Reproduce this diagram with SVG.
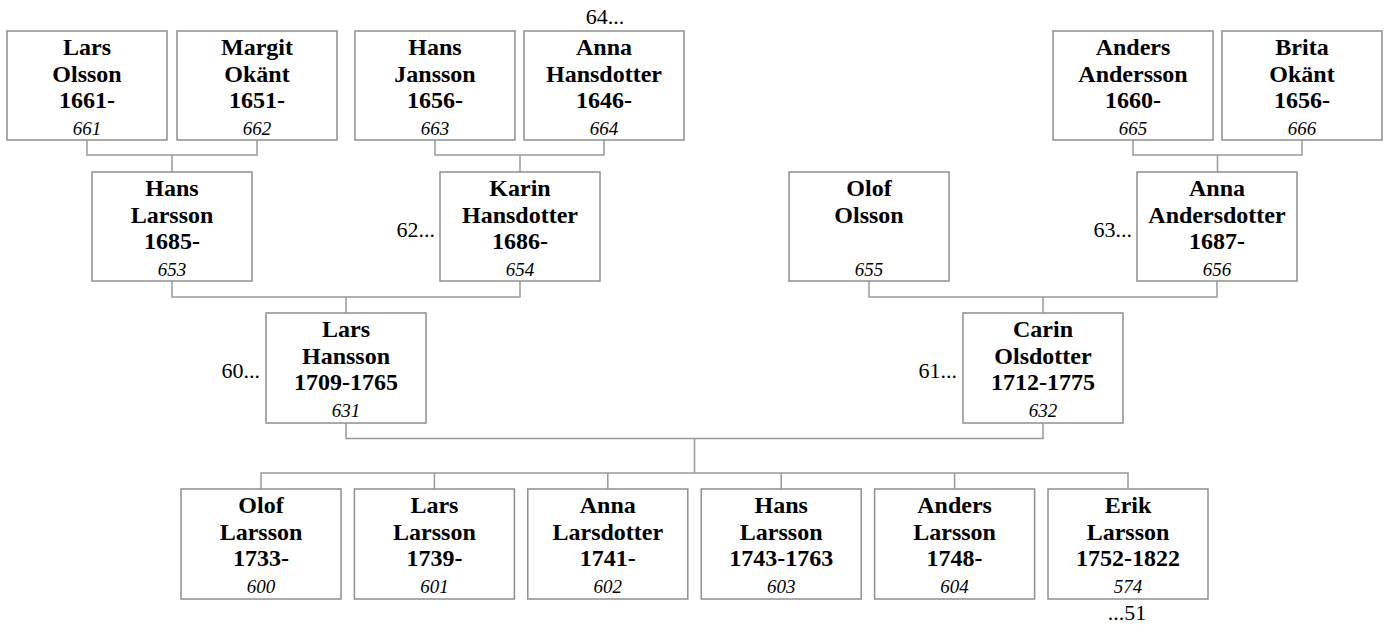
<svg xmlns="http://www.w3.org/2000/svg" width="1386" height="625" viewBox="0 0 1386 625">
<style>
.box{fill:#fff;stroke:#8f8f8f;stroke-width:1.5}
.n{font-family:"Liberation Serif","Times New Roman",serif;font-weight:bold;font-size:24px;fill:#000;text-anchor:middle}
.id{font-family:"Liberation Serif","Times New Roman",serif;font-style:italic;font-size:19px;fill:#000;text-anchor:middle}
.lbl{font-family:"Liberation Serif","Times New Roman",serif;font-size:22px;fill:#000}
.c{fill:none;stroke:#999;stroke-width:1.5}
</style>
<rect width="1386" height="625" fill="#fff"/>
<g id="connectors">
<path class="c" d="M87,140V155H257V140M172,155V172"/>
<path class="c" d="M435,140V155H604V140M520,155V172"/>
<path class="c" d="M1133,140V155H1302V140M1217.5,155V172"/>
<path class="c" d="M172,281V297H520V281M346,297V313"/>
<path class="c" d="M869,281V297H1217V281M1043,297V313"/>
<path class="c" d="M346,423V438.5H1043V423M694.5,438.5V473"/>
<path class="c" d="M261,489V473H1128V489M434.4,473V489M607.8,473V489M781.2,473V489M954.6,473V489"/>
</g>
<g id="p661"><rect class="box" x="7" y="31" width="160" height="109"/><text class="n" x="87" y="55">Lars</text><text class="n" x="87" y="82">Olsson</text><text class="n" x="87" y="108">1661-</text><text class="id" x="87" y="135">661</text></g>
<g id="p662"><rect class="box" x="177" y="31" width="160" height="109"/><text class="n" x="257" y="55">Margit</text><text class="n" x="257" y="82">Okänt</text><text class="n" x="257" y="108">1651-</text><text class="id" x="257" y="135">662</text></g>
<g id="p663"><rect class="box" x="355" y="31" width="160" height="109"/><text class="n" x="435" y="55">Hans</text><text class="n" x="435" y="82">Jansson</text><text class="n" x="435" y="108">1656-</text><text class="id" x="435" y="135">663</text></g>
<g id="p664"><rect class="box" x="524" y="31" width="160" height="109"/><text class="n" x="604" y="55">Anna</text><text class="n" x="604" y="82">Hansdotter</text><text class="n" x="604" y="108">1646-</text><text class="id" x="604" y="135">664</text><text class="lbl" x="605" y="24" text-anchor="middle">64...</text></g>
<g id="p665"><rect class="box" x="1053" y="31" width="160" height="109"/><text class="n" x="1133" y="55">Anders</text><text class="n" x="1133" y="82">Andersson</text><text class="n" x="1133" y="108">1660-</text><text class="id" x="1133" y="135">665</text></g>
<g id="p666"><rect class="box" x="1222" y="31" width="160" height="109"/><text class="n" x="1302" y="55">Brita</text><text class="n" x="1302" y="82">Okänt</text><text class="n" x="1302" y="108">1656-</text><text class="id" x="1302" y="135">666</text></g>
<g id="p653"><rect class="box" x="92" y="172" width="160" height="109"/><text class="n" x="172" y="196">Hans</text><text class="n" x="172" y="223">Larsson</text><text class="n" x="172" y="249">1685-</text><text class="id" x="172" y="276">653</text></g>
<g id="p654"><rect class="box" x="440" y="172" width="160" height="109"/><text class="n" x="520" y="196">Karin</text><text class="n" x="520" y="223">Hansdotter</text><text class="n" x="520" y="249">1686-</text><text class="id" x="520" y="276">654</text><text class="lbl" x="435" y="237" text-anchor="end">62...</text></g>
<g id="p655"><rect class="box" x="789" y="172" width="160" height="109"/><text class="n" x="869" y="196">Olof</text><text class="n" x="869" y="223">Olsson</text><text class="id" x="869" y="276">655</text></g>
<g id="p656"><rect class="box" x="1137" y="172" width="160" height="109"/><text class="n" x="1217" y="196">Anna</text><text class="n" x="1217" y="223">Andersdotter</text><text class="n" x="1217" y="249">1687-</text><text class="id" x="1217" y="276">656</text><text class="lbl" x="1132" y="237" text-anchor="end">63...</text></g>
<g id="p631"><rect class="box" x="266" y="313" width="160" height="110"/><text class="n" x="346" y="337">Lars</text><text class="n" x="346" y="364">Hansson</text><text class="n" x="346" y="390">1709-1765</text><text class="id" x="346" y="417">631</text><text class="lbl" x="260" y="378" text-anchor="end">60...</text></g>
<g id="p632"><rect class="box" x="963" y="313" width="160" height="110"/><text class="n" x="1043" y="337">Carin</text><text class="n" x="1043" y="364">Olsdotter</text><text class="n" x="1043" y="390">1712-1775</text><text class="id" x="1043" y="417">632</text><text class="lbl" x="957" y="378" text-anchor="end">61...</text></g>
<g id="p600"><rect class="box" x="181" y="489" width="160" height="110"/><text class="n" x="261" y="513">Olof</text><text class="n" x="261" y="540">Larsson</text><text class="n" x="261" y="566">1733-</text><text class="id" x="261" y="593">600</text></g>
<g id="p601"><rect class="box" x="354.4" y="489" width="160" height="110"/><text class="n" x="434.4" y="513">Lars</text><text class="n" x="434.4" y="540">Larsson</text><text class="n" x="434.4" y="566">1739-</text><text class="id" x="434.4" y="593">601</text></g>
<g id="p602"><rect class="box" x="527.8" y="489" width="160" height="110"/><text class="n" x="607.8" y="513">Anna</text><text class="n" x="607.8" y="540">Larsdotter</text><text class="n" x="607.8" y="566">1741-</text><text class="id" x="607.8" y="593">602</text></g>
<g id="p603"><rect class="box" x="701.2" y="489" width="160" height="110"/><text class="n" x="781.2" y="513">Hans</text><text class="n" x="781.2" y="540">Larsson</text><text class="n" x="781.2" y="566">1743-1763</text><text class="id" x="781.2" y="593">603</text></g>
<g id="p604"><rect class="box" x="874.6" y="489" width="160" height="110"/><text class="n" x="954.6" y="513">Anders</text><text class="n" x="954.6" y="540">Larsson</text><text class="n" x="954.6" y="566">1748-</text><text class="id" x="954.6" y="593">604</text></g>
<g id="p574"><rect class="box" x="1048" y="489" width="160" height="110"/><text class="n" x="1128" y="513">Erik</text><text class="n" x="1128" y="540">Larsson</text><text class="n" x="1128" y="566">1752-1822</text><text class="id" x="1128" y="593">574</text><text class="lbl" x="1127" y="620" text-anchor="middle">...51</text></g>
</svg>
